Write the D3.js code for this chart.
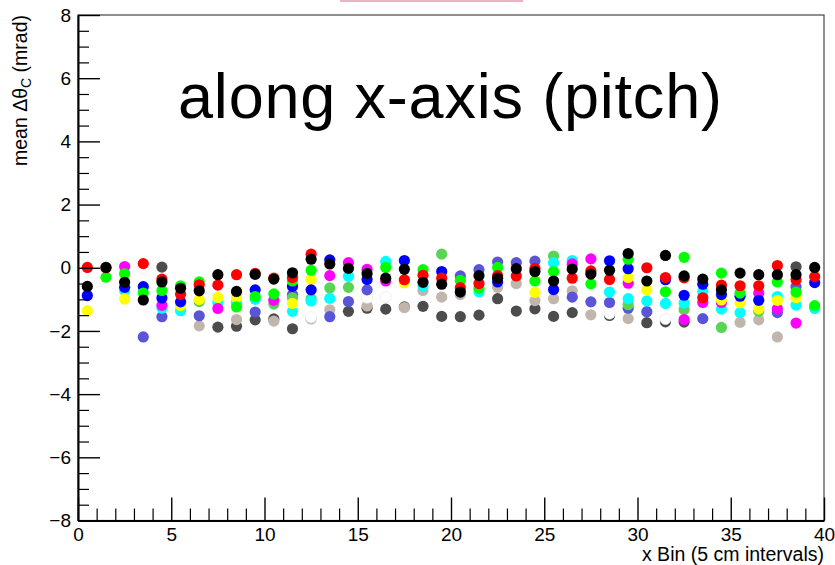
<!DOCTYPE html>
<html><head><meta charset="utf-8">
<script src="https://cdn.jsdelivr.net/npm/d3@7"></script>
<style>
body{margin:0;background:#fff}
svg{display:block}
text{font-family:"Liberation Sans",Arial,Helvetica,sans-serif}
</style>
</head><body>
<svg id="c" width="835" height="565"></svg>
<script>
// ---------- data ----------
const xBins = [0.5,1.5,2.5,3.5,4.5,5.5,6.5,7.5,8.5,9.5,10.5,11.5,12.5,13.5,14.5,15.5,16.5,17.5,18.5,19.5,
               20.5,21.5,22.5,23.5,24.5,25.5,26.5,27.5,28.5,29.5,30.5,31.5,32.5,33.5,34.5,35.5,36.5,37.5,38.5,39.5];
const xTickValues = [0,5,10,15,20,25,30,35,40];
const yTickValues = [-8,-6,-4,-2,0,2,4,6,8];
const titleText = "along x-axis (pitch)";
const xTitle = "x Bin (5 cm intervals)";

// series (null = point hidden / not readable)
const black = [-0.59,0.01,-0.46,-1.02,-0.45,-0.65,-0.73,-0.22,-0.75,-0.21,
               -0.36,-0.16,0.27,0.12,-0.02,-0.18,-0.33,-0.05,-0.46,-0.52,
               -0.77,-0.25,-0.33,-0.03,-0.12,-0.42,-0.04,-0.20,-0.08,0.45,
               -0.42,0.39,-0.26,-0.36,-0.70,-0.17,-0.22,-0.22,-0.22,0.01];
const red = [0.01,0.00,null,0.13,-0.36,-0.84,-0.54,-0.55,-0.22,-0.18,
             -0.33,-0.31,0.43,null,null,null,null,-0.38,-0.24,-0.33,
             -0.63,-0.50,-0.25,-0.26,-0.02,null,-0.33,-0.10,-0.37,null,
             0.00,-0.31,-0.32,-0.95,-0.55,-0.57,-0.57,0.07,-0.38,-0.28];
const green = [null,-0.30,-0.19,-0.80,-0.72,-0.57,-0.45,null,-1.24,-0.91,
               -0.83,-0.42,-0.08,null,null,null,0.01,null,-0.06,null,
               -0.40,-0.65,0.01,null,-0.42,-0.12,null,-0.51,null,0.27,
               null,-0.76,0.33,null,-0.17,-0.80,null,-0.45,-0.77,-1.20];
const blue = [-0.88,null,-0.62,-0.60,-0.96,-1.08,null,null,null,-0.70,
              null,-0.59,-0.70,0.25,null,-0.37,null,0.23,null,-0.12,
              null,null,-0.45,null,null,-0.69,null,null,0.22,-0.03,
              null,-0.38,-0.87,-0.52,-0.85,-0.90,-1.03,null,null,-0.47];
const yellow = [-1.36,null,-0.99,null,null,-1.20,-1.01,-0.94,-0.95,null,
                null,-1.13,-0.37,null,null,null,null,-0.48,null,null,
                null,null,null,null,-0.78,null,null,null,null,-0.31,
                -0.70,null,null,null,-1.02,-1.11,-1.30,-1.03,-0.95,null];
const magenta = [null,null,0.04,null,-1.19,null,null,-1.29,null,null,
                 -1.03,null,null,-0.25,0.16,-0.05,-0.42,null,null,null,
                 null,null,null,null,null,null,0.12,0.28,null,-0.49,
                 null,null,-1.64,-1.10,-1.10,null,-0.80,-1.30,-1.75,null];
const cyan = [null,null,-0.72,null,-1.28,-1.36,null,-1.10,-1.10,-1.00,
              null,-1.38,-1.05,-0.97,-0.27,null,0.20,null,-0.58,null,
              null,-0.76,null,null,null,0.16,0.23,null,-0.77,-0.98,
              -1.05,-1.13,-1.12,-0.75,-1.31,-1.42,null,-0.91,-1.18,-1.29];
const lightGreen = [null,null,null,null,null,null,-1.07,null,null,null,
                    -1.15,-0.95,-0.98,-0.64,-0.62,null,null,null,null,0.43,
                    null,null,null,null,null,0.37,null,null,null,-1.17,
                    null,null,-1.32,null,-1.89,null,-1.38,null,null,null];
const slateBlue = [null,null,null,-2.19,-1.55,null,-1.52,null,null,-1.40,
                   null,-0.85,null,-1.55,-1.07,-0.70,null,null,null,null,
                   -0.26,-0.06,0.18,0.16,0.21,null,-0.93,-1.08,-1.10,-1.28,
                   -1.39,null,null,-1.61,null,null,null,-1.42,-0.60,null];
const white = [null,null,null,-0.02,null,null,null,null,null,null,
               null,null,-1.57,null,null,-0.95,-0.93,null,null,null,
               null,null,null,null,null,null,null,null,-1.45,null,
               null,-1.62,null,null,-1.53,null,null,null,null,null];
const tan = [null,null,null,null,null,null,-1.84,null,-1.64,null,
             -1.69,null,-1.62,-1.33,null,-1.21,null,-1.26,-0.72,-0.93,
             -0.85,null,-0.62,-0.50,-1.04,-0.98,-0.73,-1.49,null,-1.61,
             null,null,null,null,null,-1.73,-1.65,-2.19,null,null];
const darkGray = [null,null,null,null,0.02,null,null,-1.88,-1.85,-1.65,
                  -1.62,-1.93,null,null,-1.38,-1.28,-1.31,-1.24,-1.22,-1.54,
                  -1.55,-1.50,-0.98,-1.37,-1.30,-1.54,-1.42,null,-1.51,null,
                  -1.74,-1.71,-1.72,null,null,null,null,null,0.03,null];

// drawing order: last drawn on top
const seriesList = [
  {values: darkGray,  color: "#4c4c4c"},
  {values: tan,       color: "#c0b6ac"},
  {values: white,     color: "#ffffff"},
  {values: slateBlue, color: "#5954d8"},
  {values: lightGreen,color: "#59d454"},
  {values: cyan,      color: "#00ffff"},
  {values: magenta,   color: "#ff00ff"},
  {values: yellow,    color: "#ffff00"},
  {values: blue,      color: "#0000ff"},
  {values: green,     color: "#00ff00"},
  {values: red,       color: "#ff0000"},
  {values: black,     color: "#000000"}
];

// ---------- layout ----------
const L = 78, R = 824, T = 15, B = 520.5;
const svg = d3.select("#c");

const x = d3.scaleLinear().domain([0,40]).range([L,R]);
const y = d3.scaleLinear().domain([-8,8]).range([B,T]);

// pink strip at top (cropped title box)
svg.append("rect").attr("x",340).attr("y",0).attr("width",183).attr("height",2).attr("fill","#eab3c0");

// frame
svg.append("rect").attr("x",L).attr("y",T).attr("width",R-L).attr("height",B-T)
   .attr("fill","none").attr("stroke","#444").attr("stroke-width",1.2);

// points
const gPts = svg.append("g");
seriesList.forEach(s => {
  const pts = xBins.map((xb,i)=>({x:xb, v:s.values[i]})).filter(d=>d.v!==null);
  gPts.selectAll(null).data(pts).enter().append("circle")
    .attr("cx",d=>x(d.x)).attr("cy",d=>y(d.v)).attr("r",5.6)
    .attr("fill",s.color)
    .attr("stroke", s.color==="#ffffff" ? "#e4e4e4" : "none")
    .attr("stroke-width",0.6);
});

// minor ticks
const yMinor = d3.range(-8,8.01,0.5).filter(v=>!yTickValues.includes(v));
const xMinor = d3.range(0,40.01,1).filter(v=>!xTickValues.includes(v));

svg.append("g").attr("transform",`translate(${L},0)`)
   .call(d3.axisLeft(y).tickValues(yMinor).tickSize(-11).tickFormat(""))
   .call(g=>g.select(".domain").remove())
   .call(g=>g.selectAll("line").attr("stroke","#000").attr("stroke-width",1.2));

svg.append("g").attr("transform",`translate(0,${B})`)
   .call(d3.axisBottom(x).tickValues(xMinor).tickSize(-12).tickFormat(""))
   .call(g=>g.select(".domain").remove())
   .call(g=>g.selectAll("line").attr("stroke","#000").attr("stroke-width",1.2));

// major axes
const labelStyle = g=>g.selectAll("text").attr("font-size",19).attr("fill","#000")
           .attr("font-family","'Liberation Sans',Arial,sans-serif");

svg.append("g").attr("transform",`translate(${L},0)`)
   .call(d3.axisLeft(y).tickValues(yTickValues).tickSize(-22).tickPadding(7).tickSizeOuter(0))
   .call(g=>g.select(".domain").attr("stroke","#000").attr("stroke-width",2))
   .call(g=>g.selectAll("line").attr("stroke","#000").attr("stroke-width",1.4))
   .call(labelStyle);

svg.append("g").attr("transform",`translate(0,${B})`)
   .call(d3.axisBottom(x).tickValues(xTickValues).tickSize(-23).tickPadding(7).tickSizeOuter(0))
   .call(g=>g.select(".domain").attr("stroke","#000").attr("stroke-width",2))
   .call(g=>g.selectAll("line").attr("stroke","#000").attr("stroke-width",1.4))
   .call(labelStyle);

// axis titles
svg.append("text").attr("x",R).attr("y",561).attr("text-anchor","end")
   .attr("font-size",19.5).text(xTitle);

const yt = svg.append("text").attr("transform",`translate(27,${T}) rotate(-90)`)
   .attr("text-anchor","end").attr("font-size",19.5);
yt.append("tspan").text("mean \u0394\u03b8");
yt.append("tspan").attr("font-size",14).attr("dy",4).text("C");
yt.append("tspan").attr("dy",-4).text(" (mrad)");

// big title
svg.append("text").attr("x",178).attr("y",118).attr("font-size",63)
   .attr("font-family","Lato,Roboto,'Liberation Sans',sans-serif").attr("font-weight",300)
   .attr("textLength",544).attr("lengthAdjust","spacing")
   .attr("fill","#000").text(titleText);
</script>
</body></html>
